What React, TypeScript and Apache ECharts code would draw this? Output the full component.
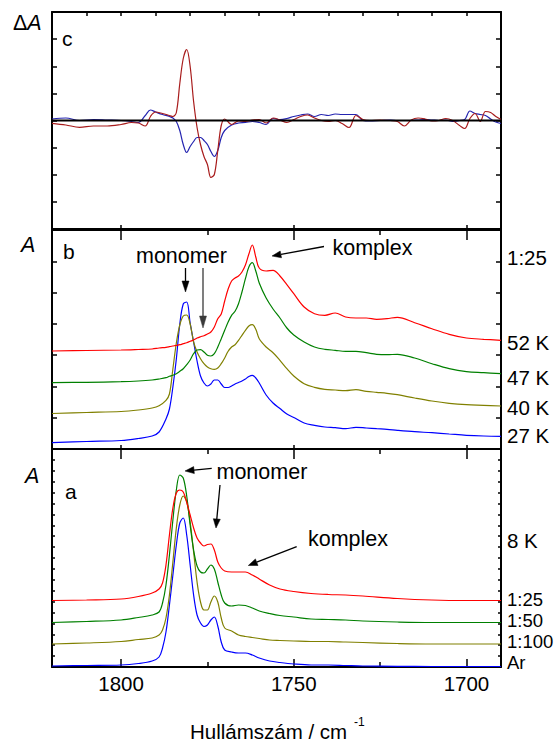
import React, { useEffect, useRef } from "react";
import * as echarts from "echarts";

// ---------- Panel a (8 K, different dilutions) ----------
const waveA = [1820, 1810, 1800, 1795, 1791, 1789, 1788, 1787, 1786, 1785, 1784, 1783, 1782, 1781, 1780, 1779, 1778, 1777, 1776, 1775, 1774, 1773, 1772, 1771, 1770, 1768, 1766, 1764, 1762, 1760, 1757, 1754, 1750, 1745, 1740, 1735, 1730, 1720, 1710, 1700, 1690];
const arA = [1, 1.5, 2, 3.5, 6, 10, 19, 35, 62, 92, 122, 144, 149, 132, 102, 72, 52, 44, 40.5, 42, 47, 50, 41, 25, 17, 15, 14, 14, 12, 9, 6, 4.5, 3, 2, 2, 1.5, 1, 0.7, 0.5, 0.5, 0.5];
const r100A = [23, 24, 25.5, 27.5, 29, 32, 37, 49, 72, 105, 139, 162, 171, 165, 145, 115, 85, 65, 57, 57, 65, 71, 65, 49, 39, 36, 32, 30.5, 29.5, 28.5, 27, 26.5, 26, 25.5, 25.5, 25, 24.5, 23.5, 23, 23, 23];
const r50A = [44.5, 45.5, 47, 49.5, 52, 55, 64, 82, 112, 147, 177, 192, 189, 171, 142, 117, 101, 95, 94, 98, 102, 98, 85, 72, 64, 61, 62, 61.5, 59, 56, 53.5, 51.5, 50, 48, 47.5, 47, 46, 45, 44.5, 44.5, 44.5];
const r25A = [66.5, 67, 68, 70.5, 74, 78, 84, 102, 132, 159, 174, 177, 175, 165, 152, 139, 129, 124, 121, 122.5, 123, 117, 105, 99, 96, 95, 95, 95, 92, 88, 82, 78, 75.5, 73.5, 72.5, 72, 71, 68.5, 67, 66.5, 66.5];

// ---------- Panel b (1:25, different temperatures) ----------
const waveB = [1820, 1810, 1800, 1795, 1791, 1789, 1787, 1786, 1785, 1784, 1783, 1782, 1781, 1780, 1779, 1778, 1777, 1776, 1775, 1774, 1773, 1772, 1771, 1770, 1769, 1768, 1767, 1766, 1765, 1764, 1763, 1762, 1761, 1760, 1758, 1756, 1754, 1752, 1750, 1747, 1744, 1741, 1738, 1735, 1732, 1729, 1726, 1723, 1720, 1715, 1710, 1705, 1700, 1695, 1690];
const k27B = [6.3, 7.5, 8.5, 10.5, 13, 17, 30, 40, 62, 90, 125, 145, 147, 126, 107, 88, 73, 66, 63, 65, 69, 69, 65, 61.5, 61.5, 63, 65, 66.5, 68, 70, 72.5, 73.7, 71, 66, 54, 46, 40.5, 35, 31.5, 26, 23.7, 22, 21.3, 20.3, 21.7, 21, 20.3, 19.7, 18.7, 17.3, 16.3, 15, 13.7, 13, 12.7];
const k40B = [35.5, 36.5, 37.5, 39, 41, 43.3, 48.7, 55, 80, 106, 124, 133, 134, 125, 107, 97, 90.3, 85.3, 82, 80.3, 79.7, 81, 85.3, 91, 97.7, 102, 104.3, 108.7, 113.7, 118.7, 123, 124.3, 119.7, 110.3, 102, 96.3, 88.7, 80.3, 73, 65.3, 61.7, 59.7, 59, 58.3, 59.3, 57.7, 56.7, 55.7, 54.3, 51, 48, 45.7, 44.3, 43.7, 43];
const k47B = [66.3, 66.7, 67.3, 68, 69, 70, 71.3, 72.7, 73.7, 75.3, 77.7, 80.3, 84.3, 89, 95.3, 99, 99.3, 97, 93.7, 93, 95.3, 102, 110.3, 118.7, 127, 133.7, 137.7, 145.3, 157, 170.3, 182, 186.3, 178, 166, 151, 140, 131, 121, 114, 107, 102, 99.7, 98.7, 97.7, 97.7, 96.3, 94.7, 94.3, 94.7, 91, 85.3, 80.3, 77.3, 76.3, 75.3];
const k52B = [98, 98.5, 99, 99.5, 100, 101, 101.7, 102.3, 103, 103.7, 104.3, 105.3, 106.3, 107.7, 109, 111, 112.3, 113.3, 115, 117, 122, 130.3, 135, 148, 160, 168, 171, 173, 177, 184, 195, 204, 192, 181, 178, 178.7, 173, 164.3, 155.3, 142, 135.3, 133.7, 136, 132, 131, 131, 129.7, 130.3, 131.7, 126.3, 120.3, 114.7, 111, 109.7, 108.7];

// ---------- Panel c (difference spectra) ----------
const waveC = [1820, 1816, 1812, 1808, 1804, 1800, 1797, 1795, 1793, 1791.5, 1790, 1788, 1786, 1785, 1784, 1783, 1782, 1781, 1780, 1779, 1778, 1777, 1776, 1775, 1774, 1773, 1772, 1771, 1770, 1768, 1766, 1764, 1762, 1760, 1758, 1756, 1754, 1752, 1750, 1748, 1746, 1744, 1742, 1740, 1738, 1736, 1734, 1732, 1730, 1728, 1725, 1722, 1720, 1718, 1716, 1714, 1712, 1710, 1708, 1706, 1704, 1702, 1700.5, 1699, 1697.5, 1696, 1694.5, 1693, 1691.5, 1690];
const diffRed = [-2.8, -4.5, -6.8, -5.5, -5.5, -4, -2, -2.5, -5.5, 4, 8.5, 7, 5, 4, 8, 37, 62, 71, 54, 19, -7, -24, -36, -44, -57, -54, -30, -5, 1.5, -4, -0.5, -1, 0.5, 1, -2.5, 2.5, 0.5, -2, 1, 4, 5.5, 2.5, 0, -1, 0, -3, -7, 5, 1, 0, 0.5, 0, -1, -5.5, 0.5, 2.5, 1.5, -0.5, 0, 2, 0, -5, -8, 2, 7, -1, 9, 8, 4, 1];
const diffBlue = [1.5, 2.5, 0, 1, 0.5, 0, -1, -2, 5, 10.5, 8.5, 6, 4, 2.5, -1, -10, -24, -32, -26, -21, -17, -17, -20, -24, -31, -36, -30, -17, -10, -4.5, -2.5, -2, -1, -2, -4, 2, 1, 2, 4, 5.5, 6.5, 4, 6, 5, 6.5, 6, 6, 6, 0, -0.5, 0, 0.5, 0, 0, 0, 0.5, 1, 0.5, 0, 0.5, -1, 0, 1, 9.5, 7, 6, 5, 1.5, -1.5, -3];

const majorTicks = [1800, 1750, 1700];
const minorTicks = [1775, 1725];
const fineTicks = [1810, 1800, 1790, 1780, 1770, 1760, 1750, 1740, 1730, 1720, 1710, 1700];

const FONT = "'Liberation Sans', Arial, Helvetica, sans-serif";

function pairs(xs: number[], ys: number[]) {
  return xs.map((x, i) => [x, ys[i]]);
}

export default function App() {
  const ref = useRef<HTMLDivElement>(null);
  useEffect(() => {
    if (!ref.current) return;
    const chart = echarts.init(ref.current, null, { renderer: "svg" });

    const grids = [
      { left: 52, top: 12, width: 449, height: 217 },
      { left: 52, top: 230, width: 449, height: 219 },
      { left: 52, top: 449, width: 449, height: 218 },
    ];

    const makeX = (g: number, pos: string, ticks: number[], len: number, line: boolean, labels = false) => ({
      type: "value",
      gridIndex: g,
      position: pos,
      min: 1690,
      max: 1820,
      inverse: true,
      axisLine: { show: line, onZero: false, lineStyle: { color: "#000", width: 2 } },
      axisTick: { show: true, inside: true, length: len, customValues: ticks, lineStyle: { color: "#000", width: 1.5 } },
      axisLabel: labels
        ? {
            show: true,
            customValues: majorTicks,
            fontSize: 20.5,
            color: "#000",
            fontFamily: FONT,
            margin: 6,
            formatter: (v: number) => String(v),
          }
        : { show: false },
      splitLine: { show: false },
    });

    const xAxes = [
      // panel c
      makeX(0, "bottom", majorTicks, 4, true),
      makeX(0, "top", fineTicks, 4, true),
      // panel b
      makeX(1, "bottom", majorTicks, 4, true),
      makeX(1, "top", majorTicks, 10, true),
      makeX(1, "top", minorTicks, 5, false),
      // panel a
      makeX(2, "bottom", majorTicks, 8, true, true),
      makeX(2, "bottom", minorTicks, 5, false),
      makeX(2, "top", majorTicks, 10, true),
      makeX(2, "top", minorTicks, 5, false),
    ];
    const xIdx = [0, 2, 5];

    const makeY = (g: number, pos: string, min: number, max: number, interval: number, len: number) => ({
      type: "value",
      gridIndex: g,
      position: pos,
      min,
      max,
      interval,
      axisLine: { show: true, onZero: false, lineStyle: { color: "#000", width: 2 } },
      axisTick: { show: true, inside: true, length: len, lineStyle: { color: "#000", width: 1.5 } },
      axisLabel: { show: false },
      splitLine: { show: false },
    });

    const yAxes = [
      makeY(0, "left", -108.5, 108.5, 27.125, 5),
      makeY(0, "right", -108.5, 108.5, 27.125, 5),
      makeY(1, "left", 0, 219, 219 / 7, 5),
      makeY(1, "right", 0, 219, 219 / 7, 5),
      makeY(2, "left", 0, 218, 10.9, 3),
      makeY(2, "right", 0, 218, 10.9, 3),
    ];
    const yIdx = [0, 2, 4];

    const line = (g: number, name: string, xs: number[], ys: number[], color: string, width = 1.2, smooth: number | boolean = 0.35) => ({
      type: "line",
      name,
      xAxisIndex: xIdx[g],
      yAxisIndex: yIdx[g],
      data: pairs(xs, ys),
      showSymbol: false,
      symbol: "none",
      smooth,
      lineStyle: { color, width },
      itemStyle: { color },
      silent: true,
    });

    const series = [
      line(0, "diff blue", waveC, diffBlue, "#2424b0"),
      line(0, "diff red", waveC, diffRed, "#a81c1c"),
      line(0, "zero", [1820, 1690], [0, 0], "#000", 2, false),
      line(1, "27 K", waveB, k27B, "#0000ff"),
      line(1, "40 K", waveB, k40B, "#808000"),
      line(1, "47 K", waveB, k47B, "#008000"),
      line(1, "52 K", waveB, k52B, "#ff0000"),
      line(2, "Ar", waveA, arA, "#0000ff"),
      line(2, "1:100", waveA, r100A, "#808000"),
      line(2, "1:50", waveA, r50A, "#008000"),
      line(2, "1:25", waveA, r25A, "#ff0000"),
    ];

    const txt = (x: number, y: number, text: string, size = 20.5, extra: any = {}) => ({
      type: "text",
      x,
      y,
      silent: true,
      style: {
        text,
        fill: "#000",
        fontSize: size,
        fontFamily: FONT,
        align: "left",
        verticalAlign: "middle",
        lineHeight: 16,
        ...extra,
      },
    });
    const italicA = (x: number, y: number, delta: boolean) => ({
      type: "text",
      x,
      y,
      silent: true,
      style: {
        text: delta ? "{n|Δ}{i|A}" : "{i|A}",
        align: "left",
        verticalAlign: "middle",
        rich: {
          n: { fontSize: 21.5, fontFamily: FONT, fill: "#000" },
          i: { fontSize: 21.5, fontFamily: FONT, fontStyle: "italic", fill: "#000" },
        },
      },
    });
    const seg = (x1: number, y1: number, x2: number, y2: number, color = "#000") => ({
      type: "line",
      silent: true,
      shape: { x1, y1, x2, y2 },
      style: { stroke: color, lineWidth: 1.3 },
    });
    const head = (pts: number[][], color = "#000") => ({
      type: "polygon",
      silent: true,
      shape: { points: pts },
      style: { fill: color, stroke: color, lineWidth: 0.5 },
    });

    const graphic = [
      italicA(13, 23, true),
      italicA(21, 245, false),
      italicA(25, 476, false),
      txt(62, 38, "c", 21),
      txt(63, 251, "b", 21),
      txt(65, 491, "a", 21),
      // panel b annotations
      txt(136, 256, "monomer", 21.5),
      seg(185.5, 268, 185.5, 283),
      head([[185.5, 292], [182, 281], [189, 281]]),
      seg(203, 268, 203, 318, "#3a3a3a"),
      head([[203, 328], [199.5, 316], [206.5, 316]], "#3a3a3a"),
      txt(332.5, 248, "komplex", 21.5),
      seg(324, 246.5, 281, 254.4),
      head([[272, 256], [281.5, 257.8], [280.2, 251]]),
      // panel a annotations
      txt(216.5, 471.5, "monomer", 21.5),
      seg(211.7, 468.3, 194, 470.1),
      head([[185, 471], [194.35, 473.6], [193.65, 466.6]]),
      seg(220, 485, 216.8, 519),
      head([[216, 528], [220.3, 519.3], [213.3, 518.7]]),
      txt(308, 539, "komplex", 21.5),
      seg(296.7, 546.7, 256.7, 562.2),
      head([[248.3, 565.5], [258, 565.5], [255.4, 558.9]]),
      // right-hand labels
      txt(507, 257, "1:25"),
      txt(507, 342, "52 K"),
      txt(507, 377, "47 K"),
      txt(507, 407, "40 K"),
      txt(507, 435, "27 K"),
      txt(507, 540, "8 K"),
      txt(507, 599, "1:25", 18.5, { lineHeight: 13 }),
      txt(507, 620, "1:50", 18.5, { lineHeight: 13 }),
      txt(507, 641, "1:100", 18.5, { lineHeight: 13 }),
      txt(507, 662, "Ar", 18.5, { lineHeight: 13 }),
      // x-axis title
      txt(190, 731, "Hullámszám / cm"),
      txt(354, 722, "-1", 12),
    ];

    chart.setOption({
      animation: false,
      backgroundColor: "#fff",
      textStyle: { fontFamily: FONT },
      grid: grids,
      xAxis: xAxes,
      yAxis: yAxes,
      series,
      graphic,
    });

    return () => chart.dispose();
  }, []);

  return (
    <div
      ref={ref}
      style={{ position: "absolute", left: 0, top: 0, width: 560, height: 744, background: "#fff" }}
    />
  );
}
